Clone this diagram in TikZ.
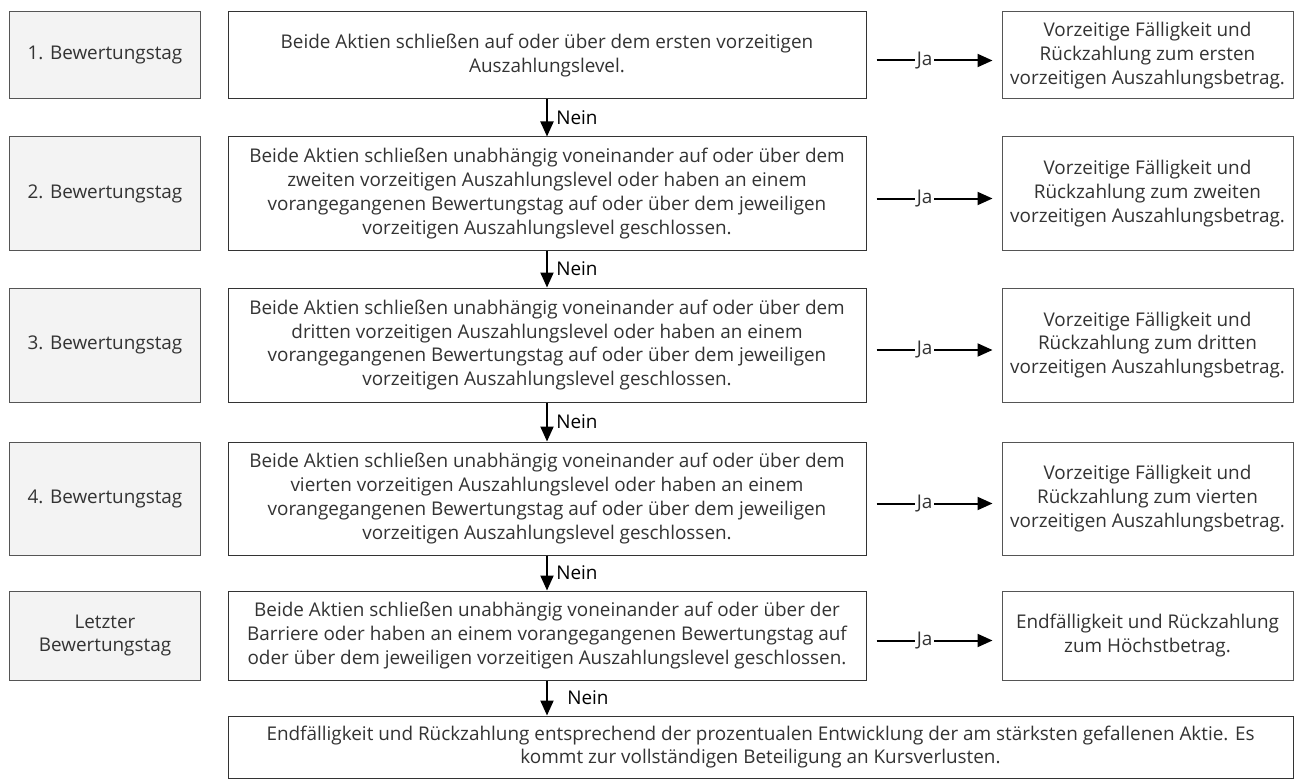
\documentclass[tikz,border=0pt]{standalone}
\usepackage{fontspec}
\setmainfont{Open Sans}
\usetikzlibrary{arrows.meta}
\definecolor{txtgray}{HTML}{333333}
\definecolor{linegray}{HTML}{555555}
\definecolor{dayfill}{HTML}{F3F3F3}
\begin{document}
\begin{tikzpicture}[
    x=1pt, y=-1pt,
    font=\fontsize{18.9}{23.7}\selectfont,
    text=txtgray,
    daybox/.style={draw=linegray, line width=1pt, fill=dayfill, rectangle, minimum width=191pt, align=center},
    condbox/.style={draw=txtgray, line width=1pt, fill=white, rectangle, minimum width=638pt, align=center},
    resbox/.style={draw=linegray, line width=1pt, fill=white, rectangle, minimum width=291pt, align=center},
    nein/.style={-{Triangle[width=13pt,length=15pt]}, line width=2pt, black},
    ja/.style={-{Triangle[width=13pt,length=15pt]}, line width=2pt, black, shorten <=10pt, shorten >=9pt},
    jalabel/.style={fill=white, inner xsep=2pt, inner ysep=3pt, pos=0.43, text=txtgray}
]
    \useasboundingbox (0,0) rectangle (1296,781);

    % Left column: valuation days
    \node[daybox, minimum height=87pt] (day1) at (105,55.5) {1. Bewertungstag};
    \node[daybox, minimum height=113pt] (day2) at (105,193.5) {2. Bewertungstag};
    \node[daybox, minimum height=114pt] (day3) at (105,345) {3. Bewertungstag};
    \node[daybox, minimum height=113pt] (day4) at (105,498.5) {4. Bewertungstag};
    \node[daybox, minimum height=89pt] (day5) at (105,635.5) {Letzter\\Bewertungstag};

    % Middle column: conditions
    \node[condbox, minimum height=87pt] (cond1) at (547,55.5) {Beide Aktien schließen auf oder über dem ersten vorzeitigen\\Auszahlungslevel.};
    \node[condbox, minimum height=113pt] (cond2) at (547,193.5) {Beide Aktien schließen unabhängig voneinander auf oder über dem\\zweiten vorzeitigen Auszahlungslevel oder haben an einem\\vorangegangenen Bewertungstag auf oder über dem jeweiligen\\vorzeitigen Auszahlungslevel geschlossen.};
    \node[condbox, minimum height=114pt] (cond3) at (547,345) {Beide Aktien schließen unabhängig voneinander auf oder über dem\\dritten vorzeitigen Auszahlungslevel oder haben an einem\\vorangegangenen Bewertungstag auf oder über dem jeweiligen\\vorzeitigen Auszahlungslevel geschlossen.};
    \node[condbox, minimum height=113pt] (cond4) at (547,498.5) {Beide Aktien schließen unabhängig voneinander auf oder über dem\\vierten vorzeitigen Auszahlungslevel oder haben an einem\\vorangegangenen Bewertungstag auf oder über dem jeweiligen\\vorzeitigen Auszahlungslevel geschlossen.};
    \node[condbox, minimum height=89pt] (cond5) at (547,635.5) {Beide Aktien schließen unabhängig voneinander auf oder über der\\Barriere oder haben an einem vorangegangenen Bewertungstag auf\\oder über dem jeweiligen vorzeitigen Auszahlungslevel geschlossen.};

    % Right column: outcomes
    \node[resbox, minimum height=87pt] (res1) at (1147.5,55.5) {Vorzeitige Fälligkeit und\\Rückzahlung zum ersten\\vorzeitigen Auszahlungsbetrag.};
    \node[resbox, minimum height=113pt] (res2) at (1147.5,193.5) {Vorzeitige Fälligkeit und\\Rückzahlung zum zweiten\\vorzeitigen Auszahlungsbetrag.};
    \node[resbox, minimum height=114pt] (res3) at (1147.5,345) {Vorzeitige Fälligkeit und\\Rückzahlung zum dritten\\vorzeitigen Auszahlungsbetrag.};
    \node[resbox, minimum height=113pt] (res4) at (1147.5,498.5) {Vorzeitige Fälligkeit und\\Rückzahlung zum vierten\\vorzeitigen Auszahlungsbetrag.};
    \node[resbox, minimum height=89pt] (res5) at (1147.5,635.5) {Endfälligkeit und Rückzahlung\\zum Höchstbetrag.};

    % Final outcome
    \node[condbox, minimum width=1065pt, minimum height=62pt] (final) at (760.5,747) {Endfälligkeit und Rückzahlung entsprechend der prozentualen Entwicklung der am stärksten gefallenen Aktie. Es\\kommt zur vollständigen Beteiligung an Kursverlusten.};

    % Nein arrows
    \draw[nein] (cond1) -- node[right, xshift=5pt] {Nein} (cond2);
    \draw[nein] (cond2) -- node[right, xshift=5pt] {Nein} (cond3);
    \draw[nein] (cond3) -- node[right, xshift=5pt] {Nein} (cond4);
    \draw[nein] (cond4) -- node[right, xshift=5pt] {Nein} (cond5);
    \draw[nein] (cond5) -- node[right, xshift=16pt] {Nein} (cond5 |- final.north);

    % Ja arrows
    \draw[ja] ([yshift=-5pt]cond1.east) -- node[jalabel] {Ja} ([yshift=-5pt]res1.west);
    \draw[ja] ([yshift=-5pt]cond2.east) -- node[jalabel] {Ja} ([yshift=-5pt]res2.west);
    \draw[ja] ([yshift=-5pt]cond3.east) -- node[jalabel] {Ja} ([yshift=-5pt]res3.west);
    \draw[ja] ([yshift=-5pt]cond4.east) -- node[jalabel] {Ja} ([yshift=-5pt]res4.west);
    \draw[ja] ([yshift=-5pt]cond5.east) -- node[jalabel] {Ja} ([yshift=-5pt]res5.west);
\end{tikzpicture}
\end{document}
